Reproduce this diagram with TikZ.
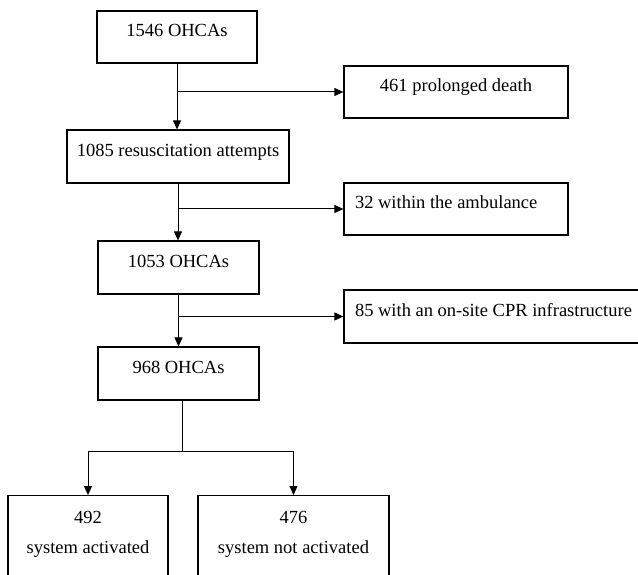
\documentclass[tikz,border=0pt]{standalone}
\usepackage{fontspec}
\setmainfont{Liberation Serif}
\usetikzlibrary{arrows.meta}
\begin{document}
\begin{tikzpicture}[x=1pt,y=-1pt,
  box/.style={draw, line width=1.2pt, rectangle, inner sep=0pt, text height=10pt, text depth=10pt, font=\fontsize{18.5}{22.2}\selectfont},
  leftbox/.style={box, inner xsep=11pt},
  bottombox/.style={box, anchor=north, minimum height=100pt, text height=12pt, text depth=56pt},
  arr/.style={-{Triangle[length=9pt,width=8pt]}, line width=1pt},
  ln/.style={line width=0.8pt}]
\clip (0,0) rectangle (638,575);
\node[box, minimum width=160pt, minimum height=52pt] (b1) at (177,37) {1546 OHCAs};
\node[box, minimum width=224pt, minimum height=52pt] (b2) at (456,92) {461 prolonged death};
\node[box, minimum width=222pt, minimum height=53pt] (b3) at (178,156.5) {1085 resuscitation attempts};
\node[leftbox, minimum height=52pt] (b4) at (456,209) {\makebox[202pt][l]{32 within the ambulance}};
\node[box, minimum width=161pt, minimum height=53pt] (b5) at (178.5,267.5) {1053 OHCAs};
\node[leftbox, minimum height=53pt] (b6) at (499,316.5) {\makebox[288pt][l]{85 with an on-site CPR infrastructure}};
\node[box, minimum width=161pt, minimum height=53pt] (b7) at (178.5,373.5) {968 OHCAs};
\node[bottombox, minimum width=160pt] (b8) at (88,495) {\begin{tabular}[t]{@{}c@{}}492\\[8pt]system activated\end{tabular}};
\node[bottombox, minimum width=191pt] (b9) at (293.5,495) {\begin{tabular}[t]{@{}c@{}}476\\[8pt]system not activated\end{tabular}};
% main flow
\draw[arr] (b1.south) -- (b1.south |- b3.north);
\draw[arr] (b1.south |- b2.west) -- (b2.west);
\draw[arr] (b3.south) -- (b3.south |- b5.north);
\draw[arr] (b3.south |- b4.west) -- (b4.west);
\draw[arr] (b5.south) -- (b5.south |- b7.north);
\draw[arr] (b5.south |- b6.west) -- (b6.west);
% split
\draw[ln] ([xshift=3.5pt]b7.south) -- ++(0,51) coordinate (split);
\draw[arr] (split) -| (b8.north);
\draw[arr] (split) -| (b9.north);
\end{tikzpicture}
\end{document}
